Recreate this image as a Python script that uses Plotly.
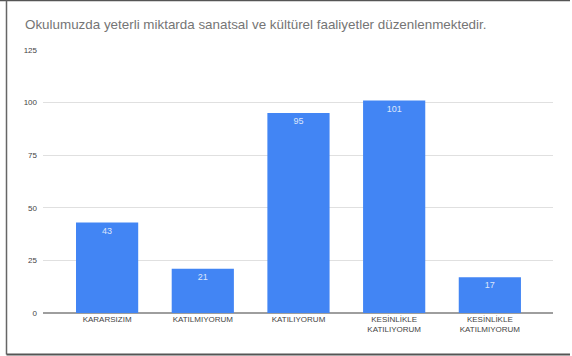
import plotly.graph_objects as go

# Survey responses for the statement in the chart title
categories = ["KARARSIZIM", "KATILMIYORUM", "KATILIYORUM",
              "KESİNLİKLE<br>KATILIYORUM", "KESİNLİKLE<br>KATILMIYORUM"]
counts = [43, 21, 95, 101, 17]
y_ticks = [0, 25, 50, 75, 100, 125]

W, H = 572, 356
L, R, T, B = 43, 19, 50, 43
pw, ph = W - L - R, H - T - B
FONT = "Liberation Sans"


def px_to_paper(x, y):
    return (x - L) / pw, (H - B - y) / ph


fig = go.Figure(go.Bar(
    x=list(range(len(categories))),
    y=counts,
    marker=dict(color="#4285F4", line=dict(width=0)),
    text=[str(c) for c in counts],
    textposition="inside",
    insidetextanchor="end",
    textfont=dict(color="#DDE6FB", size=9, family=FONT),
    width=0.65,
    hoverinfo="skip",
))

# frame lines around the chart card
x0, y0 = px_to_paper(0, 0.5)
x1, _ = px_to_paper(W - 2, 0)
xl, _ = px_to_paper(6.5, 0)
_, yb = px_to_paper(0, 354.5)
shapes = [
    dict(type="line", xref="paper", yref="paper", x0=x0, x1=x1, y0=y0, y1=y0,
         line=dict(color="#555555", width=1.5)),
    dict(type="line", xref="paper", yref="paper", x0=xl, x1=xl, y0=y0, y1=yb,
         line=dict(color="#666666", width=1.5)),
    dict(type="line", xref="paper", yref="paper", x0=xl, x1=x1, y0=yb, y1=yb,
         line=dict(color="#555555", width=2)),
]

fig.update_layout(
    width=W, height=H,
    margin=dict(l=L, r=R, t=T, b=B),
    paper_bgcolor="white", plot_bgcolor="white",
    showlegend=False,
    shapes=shapes,
    title=dict(
        text="Okulumuzda yeterli miktarda sanatsal ve kültürel faaliyetler düzenlenmektedir.",
        x=25 / W, xanchor="left", xref="container",
        y=1 - 24 / H, yanchor="middle", yref="container",
        font=dict(family=FONT, size=13.4, color="#757575"),
    ),
    xaxis=dict(
        tickmode="array",
        tickvals=list(range(len(categories))),
        ticktext=categories,
        range=[-0.67, 4.66],
        showgrid=False, zeroline=False, showline=False,
        ticks="",
        tickfont=dict(family=FONT, size=8, color="#444444"),
    ),
    yaxis=dict(
        range=[0, 125],
        tickmode="array", tickvals=y_ticks,
        showgrid=True, gridcolor="#E0E0E0", gridwidth=1,
        zeroline=True, zerolinecolor="#9E9E9E", zerolinewidth=2,
        showline=False, ticks="",
        tickfont=dict(family=FONT, size=8, color="#444444"),
        ticklabelstandoff=5,
    ),
)

fig.write_html("out.html")
